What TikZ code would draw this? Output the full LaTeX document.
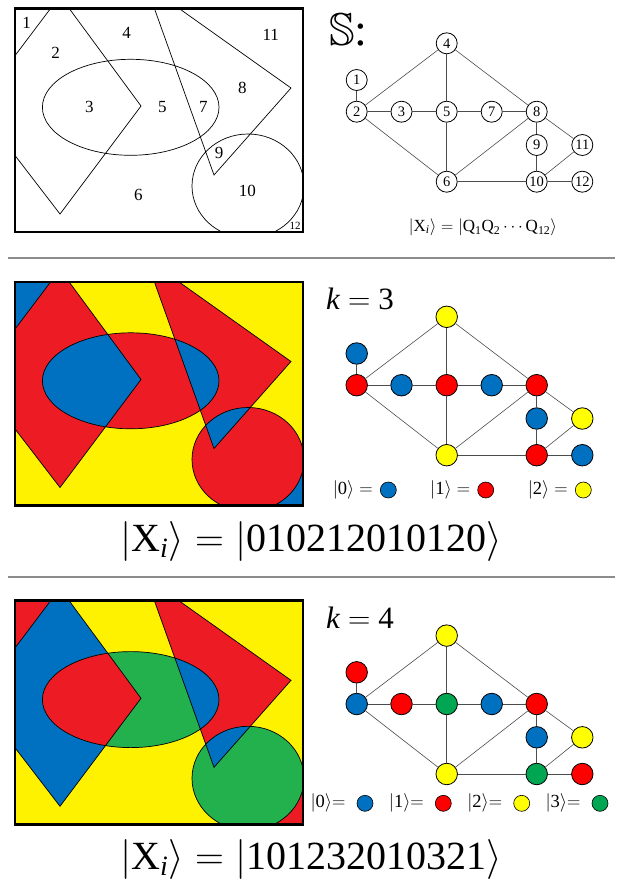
\RequirePackage{fix-cm}
\documentclass[tikz,border=0pt]{standalone}
\usepackage{amsmath,amssymb}
\usepackage{fontspec}
\setmainfont{Liberation Serif}
\usepackage{tikz}
\usetikzlibrary{positioning}

\definecolor{mapred}{HTML}{ED1C24}
\definecolor{mapblue}{HTML}{0070C0}
\definecolor{mapyellow}{HTML}{FFF200}
\definecolor{mapgreen}{HTML}{22B14C}
\definecolor{qred}{HTML}{FF0000}
\definecolor{qblue}{HTML}{0070C0}
\definecolor{qyellow}{HTML}{FFFF00}
\definecolor{qgreen}{HTML}{00A651}

% the four shapes of the map and its frame (pixel units, y downwards)
\newcommand{\maprhomb}{(60,-4) -- (141,106) -- (60,214) -- (-23,106) -- cycle}
\newcommand{\mapoval}{(130.7,107.3) ellipse [x radius=88.3,y radius=48]}
\newcommand{\mapkite}{(146,-15) -- (291,88) -- (214,175) -- cycle}
\newcommand{\mapdisc}{(248,186) ellipse [x radius=56,y radius=52]}
\newcommand{\mapframe}{(15,8.3) rectangle (303,232)}
% graph of neighbouring regions
\newcommand{\qpos}{1/356.7/80,2/356.7/111.7,3/401.5/111.7,4/446.7/43.3,5/446.7/111.7,6/446.7/181.7,7/491.7/111.7,8/536.7/111.7,9/536.7/145,10/536.7/181.7,11/582.3/145,12/582.3/181.7}
\newcommand{\qedges}{1/2,2/3,2/4,2/6,3/5,4/5,4/8,5/6,5/7,7/8,6/8,8/9,8/11,9/10,6/10,10/11,10/12}
% text-font letters inside kets
\newcommand{\tx}[1]{\text{#1}}

% colours: #1 corners 1,12 #2 regions 4,6,11 #3 2 #4 3 #5 5 #6 7 #7 8 #8 9 #9 10
\newcommand{\colormap}[9]{%
  \begin{scope}
    \clip \mapframe;
    \fill[#2] \mapframe;
    \fill[#1] (-23,-4) -- (60,-4) -- (-23,106) -- cycle;
    \fill[#1] (248,186) rectangle (320,250);
    \fill[#3] \maprhomb;
    \fill[#7] \mapkite;
    \fill[#9] \mapdisc;
    \fill[#5] \mapoval;
    \begin{scope} \clip \mapoval; \fill[#4] \maprhomb; \fill[#6] \mapkite; \end{scope}
    \begin{scope} \clip \mapdisc; \fill[#8] \mapkite; \end{scope}
    \draw[border] \maprhomb \mapoval \mapkite \mapdisc;
  \end{scope}
  \draw[frame] \mapframe;}

\begin{document}
\begin{tikzpicture}[x=1pt,y=-1pt,
  border/.style={line width=0.7pt},
  frame/.style={line width=2.6pt},
  region/.style={font=\fontsize{17}{17}\selectfont,inner sep=0pt},
  vert/.style={circle,draw,line width=0.8pt,fill=white,minimum size=21pt,inner sep=0pt,font=\fontsize{14.5}{14.5}\selectfont},
  qubit/.style={circle,draw,line width=0.8pt,minimum size=21.5pt,inner sep=0pt},
  dot/.style={circle,draw,line width=0.6pt,minimum size=16pt,inner sep=0pt},
  edge/.style={line width=0.6pt,black!70},
  sep/.style={line width=1.8pt,black!45},
  leg/.style={font=\fontsize{18.5}{18.5}\selectfont,inner sep=0pt},
  ket/.style={font=\fontsize{40}{40}\selectfont,anchor=base}]
  \useasboundingbox (0,0) rectangle (623,884);
  % plain map with numbered regions
  \begin{scope}
    \clip \mapframe;
    \draw[border] \maprhomb \mapoval \mapkite \mapdisc;
  \end{scope}
  \draw[frame] \mapframe;
  \foreach \n/\x/\y in {1/26.7/23.3,2/55.7/53.3,3/89.3/106.7,4/126.7/33.3,5/162.3/106.7,6/138.3/195,7/203.3/106.7,8/242.3/88.3,9/219/153.3,10/247.3/190.7,11/270.7/35}
    \node[region] (r\n) at (\x,\y) {\n};
  \node[region,font=\fontsize{11}{11}\selectfont] (r12) at (295,226) {12};
  \foreach \n/\x/\y in \qpos \node[vert] (a\n) at (\x,\y) {\n};
  \foreach \a/\b in \qedges \draw[edge] (a\a) -- (a\b);
  \node[font=\fontsize{46}{46}\selectfont,anchor=base west,inner sep=0pt] (title) at (329,45) {$\mathbb{S}$:};
  \node[font=\fontsize{17}{17}\selectfont] (state) at (483,227) {$|\tx{X}_{\textit{i}}\rangle = |\tx{Q}_{\tx{1}}\tx{Q}_{\tx{2}}\cdots\tx{Q}_{\tx{12}}\rangle$};
  \draw[sep] (8,258.3) -- (615,258.3);
  % k = 3
  \begin{scope}[shift={(0,273.5)}]
    \colormap{mapblue}{mapyellow}{mapred}{mapblue}{mapred}{mapblue}{mapred}{mapblue}{mapred}
    \foreach \n/\x/\y in \qpos \coordinate (p\n) at (\x,\y);
    \foreach \n/\c in {1/qblue,2/qred,3/qblue,4/qyellow,5/qred,6/qyellow,7/qblue,8/qred,9/qblue,10/qred,11/qyellow,12/qblue}
      \node[qubit,fill=\c] (b\n) at (p\n) {};
    \foreach \a/\b in \qedges \draw[edge] (b\a) -- (b\b);
    \node[font=\fontsize{31}{31}\selectfont] (k3) at (360,25.5) {\textit{k} $=$ 3};
    \foreach \s/\x/\c in {0/388.3/qblue,1/485.7/qred,2/583.3/qyellow} {
      \node[dot,fill=\c] (d\s) at (\x,216.5) {};
      \node[leg,left=7pt of d\s] (t\s) {$|\tx{\s}\rangle =$};
    }
    \node[ket] (x3) at (311,278) {$|\tx{X}_{\textit{i}}\rangle = |\tx{010212010120}\rangle$};
  \end{scope}
  \draw[sep] (8,577.3) -- (615,577.3);
  % k = 4
  \begin{scope}[shift={(0,592.3)}]
    \colormap{mapred}{mapyellow}{mapblue}{mapred}{mapgreen}{mapblue}{mapred}{mapblue}{mapgreen}
    \foreach \n/\x/\y in \qpos \coordinate (p\n) at (\x,\y);
    \foreach \n/\c in {1/qred,2/qblue,3/qred,4/qyellow,5/qgreen,6/qyellow,7/qblue,8/qred,9/qblue,10/qgreen,11/qyellow,12/qred}
      \node[qubit,fill=\c] (c\n) at (p\n) {};
    \foreach \a/\b in \qedges \draw[edge] (c\a) -- (c\b);
    \node[font=\fontsize{31}{31}\selectfont] (k4) at (360,25.7) {\textit{k} $=$ 4};
    \foreach \s/\x/\c in {0/365/qblue,1/443.3/qred,2/521.7/qyellow,3/600/qgreen} {
      \node[dot,fill=\c] (e\s) at (\x,211) {};
      \node[leg,left=11pt of e\s] (u\s) {$|\tx{\s}\rangle{=}$};
    }
    \node[ket] (x4) at (311,277) {$|\tx{X}_{\textit{i}}\rangle = |\tx{101232010321}\rangle$};
  \end{scope}
\end{tikzpicture}
\end{document}
